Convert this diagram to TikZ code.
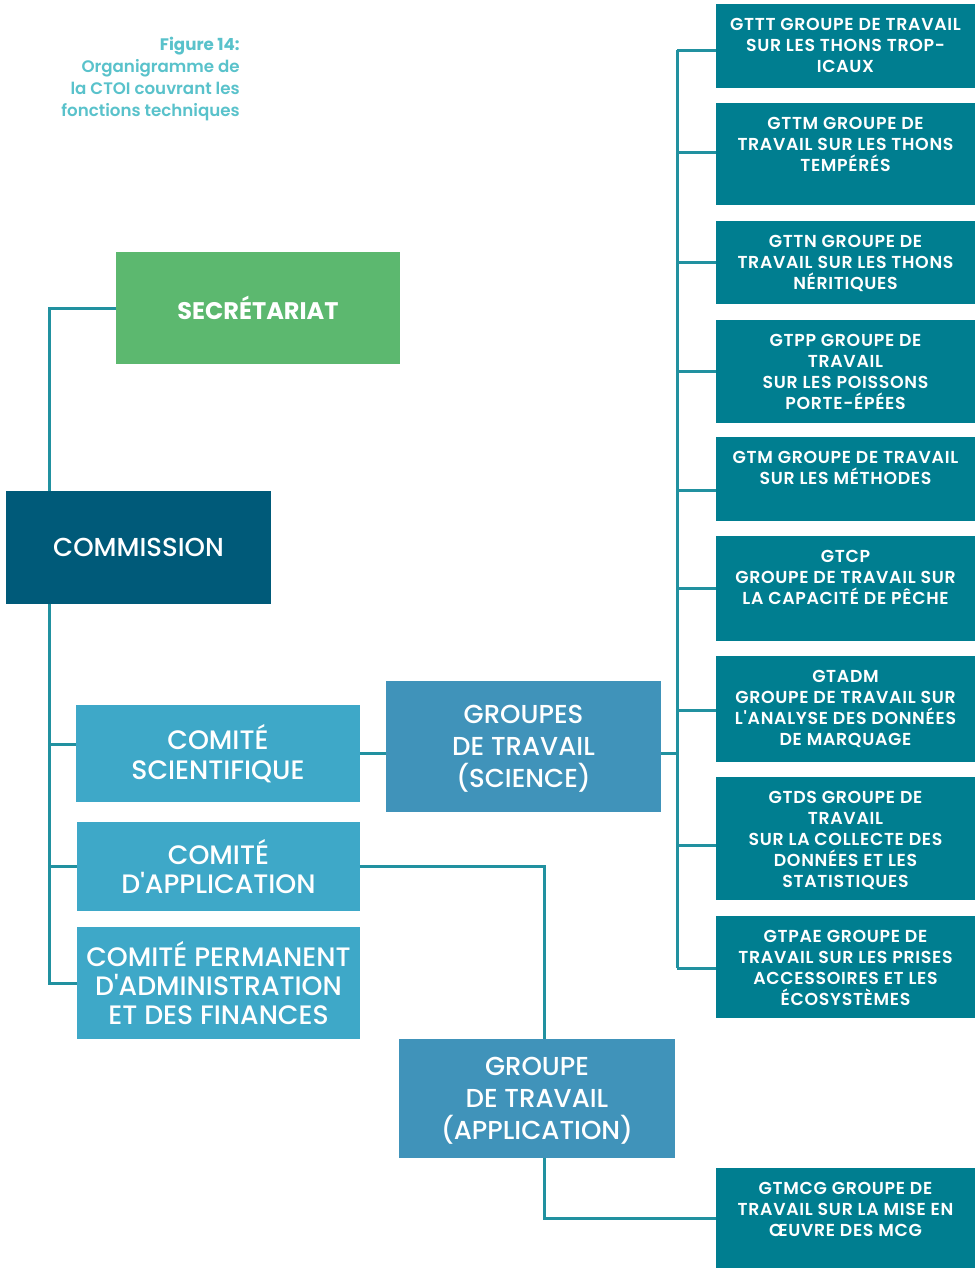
\documentclass[tikz,border=0pt]{standalone}
\usepackage{fontspec}
\setmainfont{Poppins}[UprightFont=*-Medium, BoldFont=*-Bold, Ligatures=TeXOff]
\newfontfamily\wgfont{Poppins}[UprightFont=*-SemiBold, LetterSpace=4, Ligatures=TeXOff]
\newfontfamily\titlefont{Poppins}[UprightFont=*-SemiBold, BoldFont=*-Bold, Ligatures=TeXOff]
\usetikzlibrary{calc}
\definecolor{wgcol}{HTML}{007E90}
\definecolor{comcol}{HTML}{3EA8C8}
\definecolor{grpcol}{HTML}{4093BA}
\definecolor{commcol}{HTML}{005A79}
\definecolor{seccol}{HTML}{5CB86F}
\definecolor{linecol}{HTML}{2191A0}
\definecolor{titlecol}{HTML}{59C2CB}
\newcommand\mytopstrut{\rule{0pt}{12pt}}
\begin{document}
\begin{tikzpicture}[x=0.75pt,y=-0.75pt,
  sz/.style 2 args={minimum width=#1*0.75pt, minimum height=#2*0.75pt},
  basebox/.style={rectangle, inner sep=0pt, text=white, align=center},
  secbox/.style={basebox, fill=seccol, font=\bfseries\fontsize{18}{22}\selectfont},
  commbox/.style={basebox, fill=commcol, font=\fontsize{19.5}{23}\selectfont},
  comitebox/.style={basebox, fill=comcol, font=\fontsize{20}{22}\selectfont},
  grpbox/.style={basebox, fill=grpcol, text depth=0pt, font=\fontsize{19.5}{24}\selectfont},
  wgbox/.style={basebox, fill=wgcol},
  wgtext/.style={inner sep=0pt, text=white, align=center, anchor=north, font=\wgfont\fontsize{13}{15.75}\selectfont},
  titletext/.style={inner sep=0pt, text=titlecol, align=right, anchor=north east, font=\titlefont\fontsize{12.5}{16.5}\selectfont},
  conn/.style={draw=linecol, line width=2.25pt}
]
\useasboundingbox[fill=white] (0,0) rectangle (979,1268);

% title
\node[titletext] (title) at (240,34) {\mytopstrut\textbf{Figure 14:}\\Organigramme de\\la CTOI couvrant les\\fonctions techniques};

% left tree
\node[secbox, sz={284}{112}] (sec) at (258,308) {SECRÉTARIAT};
\node[commbox, sz={265}{113}] (com) at (138.5,547.5) {COMMISSION};
\node[comitebox, sz={284}{97}] (cs) at (218,753.5) {COMITÉ\\SCIENTIFIQUE};
\node[comitebox, sz={283}{89}] (ca) at (218.5,866.5) {COMITÉ\\D'APPLICATION};
\node[comitebox, sz={283}{112}] (cp) at (218.5,983) {COMITÉ PERMANENT\\D'ADMINISTRATION\\ET DES FINANCES};
\node[grpbox, sz={275}{131}] (gs) at (523.5,746.5) {GROUPES\\DE TRAVAIL\\(SCIENCE)};
\node[grpbox, sz={276}{119}] (ga) at (537,1098.5) {GROUPE\\DE TRAVAIL\\(APPLICATION)};

% working groups
\node[wgbox, sz={259}{84}]  (gttt)  at (845.5,46) {};
\node[wgbox, sz={259}{102}] (gttm)  at (845.5,154) {};
\node[wgbox, sz={259}{83}]  (gttn)  at (845.5,262.5) {};
\node[wgbox, sz={259}{103}] (gtpp)  at (845.5,371.5) {};
\node[wgbox, sz={259}{84}]  (gtm)   at (845.5,479) {};
\node[wgbox, sz={259}{105}] (gtcp)  at (845.5,588.5) {};
\node[wgbox, sz={259}{106}] (gtadm) at (845.5,709) {};
\node[wgbox, sz={259}{123}] (gtds)  at (845.5,838.5) {};
\node[wgbox, sz={259}{102}] (gtpae) at (845.5,967) {};
\node[wgbox, sz={259}{100}] (gtmcg) at (845.5,1218) {};

\node[wgtext] (tgttt)  at ($(gttt.north)+(0,10.5)$)  {\mytopstrut GTTT GROUPE DE TRAVAIL\\SUR LES THONS TROP-\\ICAUX};
\node[wgtext] (tgttm)  at ($(gttm.north)+(0,10.5)$)  {\mytopstrut GTTM GROUPE DE\\TRAVAIL SUR LES THONS\\TEMPÉRÉS};
\node[wgtext] (tgttn)  at ($(gttn.north)+(0,10.5)$)  {\mytopstrut GTTN GROUPE DE\\TRAVAIL SUR LES THONS\\NÉRITIQUES};
\node[wgtext] (tgtpp)  at ($(gtpp.north)+(0,10.5)$)  {\mytopstrut GTPP GROUPE DE\\TRAVAIL\\SUR LES POISSONS\\PORTE-ÉPÉES};
\node[wgtext] (tgtm)   at ($(gtm.north)+(0,10.5)$)   {\mytopstrut GTM GROUPE DE TRAVAIL\\SUR LES MÉTHODES};
\node[wgtext] (tgtcp)  at ($(gtcp.north)+(0,10.5)$)  {\mytopstrut GTCP\\GROUPE DE TRAVAIL SUR\\LA CAPACITÉ DE PÊCHE};
\node[wgtext] (tgtadm) at ($(gtadm.north)+(0,10.5)$) {\mytopstrut GTADM\\GROUPE DE TRAVAIL SUR\\L'ANALYSE DES DONNÉES\\DE MARQUAGE};
\node[wgtext] (tgtds)  at ($(gtds.north)+(0,10.5)$)  {\mytopstrut GTDS GROUPE DE\\TRAVAIL\\SUR LA COLLECTE DES\\DONNÉES ET LES\\STATISTIQUES};
\node[wgtext] (tgtpae) at ($(gtpae.north)+(0,10.5)$) {\mytopstrut GTPAE GROUPE DE\\TRAVAIL SUR LES PRISES\\ACCESSOIRES ET LES\\ÉCOSYSTÈMES};
\node[wgtext] (tgtmcg) at ($(gtmcg.north)+(0,10.5)$) {\mytopstrut GTMCG GROUPE DE\\TRAVAIL SUR LA MISE EN\\ŒUVRE DES MCG};

% helper coordinates
\coordinate (L) at (49,0);
\coordinate (T) at (677,0);
\coordinate (V) at (544,0);
\coordinate (csl) at ($(cs.west)+(0,-9.5)$);

% connectors left
\draw[conn] (sec.west) -| (com.north -| L);
\draw[conn] (com.south -| L) |- (cp.west);
\draw[conn] (csl -| L) -- (csl);
\draw[conn] (ca.west -| L) -- (ca.west);
\draw[conn] (cs.east) -- (cs.east -| gs.west);
\draw[conn] (cs.east -| gs.east) -- (cs.east -| T);
\draw[conn] (ca.east) -| (V |- ga.north);
\draw[conn] (V |- ga.south) |- (gtmcg.west);

% trunk and branches
\foreach \n/\dy in {gttt/4, gttm/-2, gttn/0, gtpp/0, gtm/11, gtcp/0, gtadm/1, gtds/6.5, gtpae/1}{
  \coordinate (c\n) at ($(\n.west)+(0,\dy)$);
  \draw[conn] (c\n -| T) -- (c\n);
}
\draw[conn] (cgttt -| T) -- (cgtpae -| T);
\end{tikzpicture}
\end{document}
